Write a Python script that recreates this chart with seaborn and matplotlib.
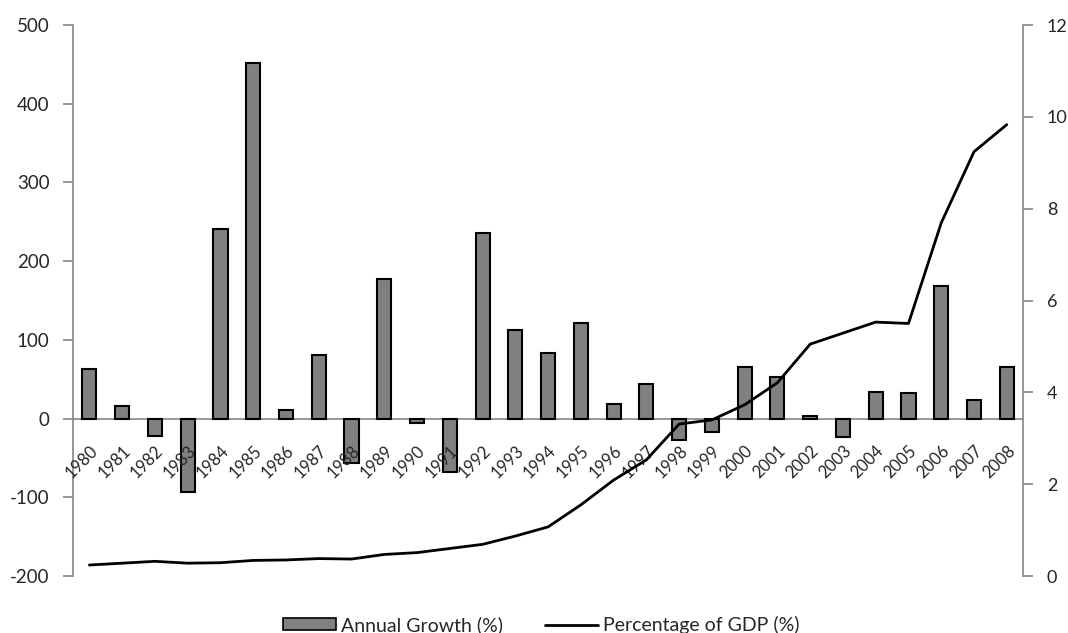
import numpy as np
import pandas as pd
import matplotlib
matplotlib.use("Agg")
import matplotlib.pyplot as plt
from matplotlib.ticker import FixedLocator, MultipleLocator
from matplotlib.patches import Patch
from matplotlib.lines import Line2D
import seaborn as sns

years = [str(y) for y in range(1980, 2009)]
annual_growth = [63, 16, -22, -93, 241, 452, 11, 81, -57, 177,
                 -6, -68, 236, 112, 83, 121, 18, 44, -27, -17,
                 66, 53, 3, -23, 34, 32, 168, 24, 66]
gdp_share = [0.24, 0.28, 0.32, 0.28, 0.29, 0.34, 0.35, 0.38, 0.37, 0.47,
             0.51, 0.60, 0.69, 0.87, 1.07, 1.55, 2.09, 2.53, 3.31, 3.40,
             3.73, 4.21, 5.05, 5.29, 5.53, 5.50, 7.69, 9.24, 9.83]

df = pd.DataFrame({"year": years, "growth": annual_growth, "gdp": gdp_share})
df["pos"] = np.arange(len(df))

sns.set_style("white")
plt.rcParams["font.family"] = ["Lato", "DejaVu Sans"]
plt.rcParams["axes.unicode_minus"] = False

GRAY = "#868686"

fig = plt.figure(figsize=(10.68, 6.33), dpi=100)
ax = fig.add_axes([0.0684, 0.09, 0.8896, 0.8705])

sns.barplot(data=df, x="year", y="growth", ax=ax, color="#808080",
            saturation=1, edgecolor="black", linewidth=1.5, width=0.43)

ax.set_ylim(-200, 500)
ax.yaxis.set_major_locator(MultipleLocator(100))
ax.set_xlim(-0.5, len(years) - 0.5)
ax.set_xlabel("")
ax.set_ylabel("")
ax.set_axisbelow(False)

# category axis drawn along the zero line
ax.spines["bottom"].set_position(("data", 0))
ax.spines["top"].set_visible(False)
ax.spines["right"].set_visible(False)
for s in ("left", "bottom"):
    ax.spines[s].set_color(GRAY)
    ax.spines[s].set_linewidth(1.2)
    ax.spines[s].set_zorder(0.8)

ax.xaxis.set_major_locator(FixedLocator(np.arange(-0.5, len(years), 1.0)))
ax.xaxis.set_major_formatter(plt.NullFormatter())
ax.set_xticks(np.arange(len(years)), labels=years, minor=True)
ax.tick_params(axis="x", which="major", direction="out", length=5,
               color=GRAY, width=1.2)
ax.tick_params(axis="x", which="minor", length=0, pad=17, labelsize=12)
for lbl in ax.get_xticklabels(minor=True):
    lbl.set_rotation(45)
    lbl.set_ha("right")
    lbl.set_va("top")
    lbl.set_rotation_mode("anchor")

ax.tick_params(axis="y", direction="out", length=7, color=GRAY, width=1.2,
               labelsize=13.5, left=True, pad=10)

ax2 = ax.twinx()
sns.lineplot(data=df, x="pos", y="gdp", ax=ax2, color="black", linewidth=2)
ax2.set_ylim(0, 12)
ax2.yaxis.set_major_locator(MultipleLocator(2))
ax2.set_ylabel("")
ax2.set_xlabel("")
for s in ("left", "top", "bottom"):
    ax2.spines[s].set_visible(False)
ax2.spines["right"].set_color(GRAY)
ax2.spines["right"].set_linewidth(1.2)
ax2.tick_params(axis="y", direction="out", length=7, color=GRAY, width=1.2,
                labelsize=13, right=True, pad=10)

handles = [Patch(facecolor="#808080", edgecolor="black", linewidth=1.2),
           Line2D([0], [0], color="black", linewidth=2)]
fig.legend(handles, ["Annual Growth (%)", "Percentage of GDP (%)"],
           loc="center", bbox_to_anchor=(0.5066, 0.013), ncol=2, frameon=False,
           fontsize=14, handlelength=2.73, handleheight=0.52,
           handletextpad=0.26, columnspacing=2.16, borderpad=0)

fig.savefig("out.png", dpi=100)
